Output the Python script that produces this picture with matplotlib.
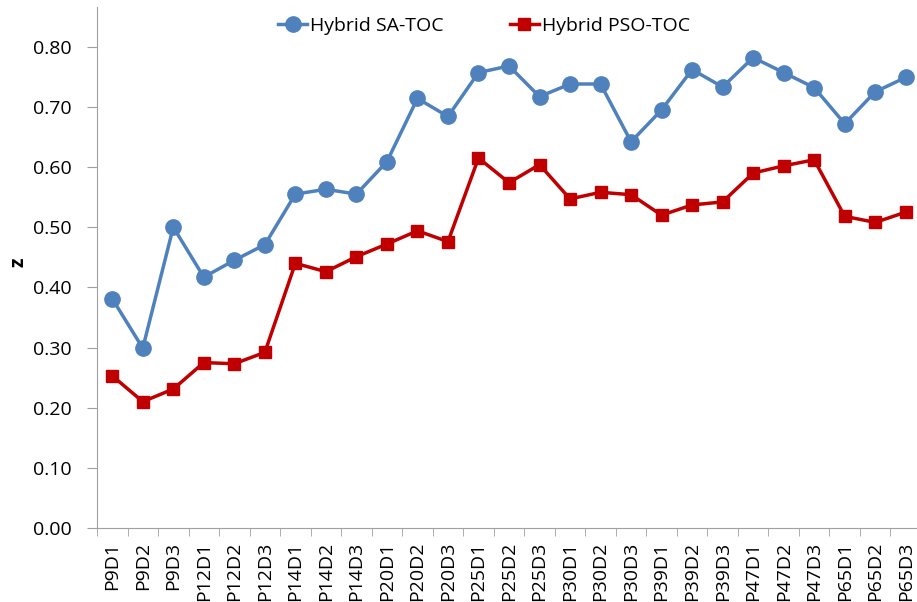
import matplotlib
matplotlib.use("Agg")
import matplotlib.pyplot as plt
import numpy as np

plt.rcParams['font.family'] = ['Open Sans', 'DejaVu Sans']

# categories and series
categories = ["P9D1", "P9D2", "P9D3", "P12D1", "P12D2", "P12D3",
              "P14D1", "P14D2", "P14D3", "P20D1", "P20D2", "P20D3",
              "P25D1", "P25D2", "P25D3", "P30D1", "P30D2", "P30D3",
              "P39D1", "P39D2", "P39D3", "P47D1", "P47D2", "P47D3",
              "P65D1", "P65D2", "P65D3"]
sa_toc = [0.381, 0.299, 0.500, 0.417, 0.445, 0.471,
          0.555, 0.563, 0.555, 0.609, 0.714, 0.684,
          0.757, 0.768, 0.717, 0.738, 0.738, 0.642,
          0.695, 0.762, 0.733, 0.782, 0.757, 0.732,
          0.672, 0.725, 0.749]
pso_toc = [0.253, 0.210, 0.231, 0.275, 0.273, 0.292,
           0.440, 0.426, 0.451, 0.472, 0.494, 0.476,
           0.615, 0.574, 0.604, 0.547, 0.558, 0.554,
           0.520, 0.537, 0.542, 0.590, 0.602, 0.612,
           0.518, 0.508, 0.525]
y_ticks = [0.0, 0.1, 0.2, 0.3, 0.4, 0.5, 0.6, 0.7, 0.8]

fig = plt.figure(figsize=(9.17, 6.02), dpi=100)
ax = fig.add_axes([97 / 917, 1 - 528 / 602, 824 / 917, 521 / 602])

x = np.arange(len(categories))
ax.plot(x, sa_toc, color="#4F81BD", lw=2.5, marker="o", ms=11,
        label="Hybrid SA-TOC")
ax.plot(x, pso_toc, color="#C00000", lw=2.5, marker="s", ms=9,
        label="Hybrid PSO-TOC")

ax.set_xlim(-0.5, len(categories) - 0.5)
ax.set_ylim(0, 0.866)
ax.set_yticks(y_ticks)
ax.set_yticklabels(["%.2f" % v for v in y_ticks], fontsize=14)
ax.set_xticks(x)
ax.set_xticklabels(categories, rotation=90, fontsize=14)
ax.set_xticks(np.arange(len(categories) + 1) - 0.5, minor=True)
ax.tick_params(axis="x", which="major", length=0, pad=10)
ax.tick_params(axis="x", which="minor", length=6, color="#A0A0A0")
ax.tick_params(axis="y", length=7, color="#A0A0A0", pad=11)

for s in ["top", "right"]:
    ax.spines[s].set_visible(False)
ax.spines["left"].set_color("#A0A0A0")
ax.spines["bottom"].set_color("#A0A0A0")

fig.text(18 / 917, 1 - 262 / 602, "z", rotation=90, fontsize=14,
         fontweight="bold", ha="center", va="center")

ax.legend(loc="center", bbox_to_anchor=(484 / 917, 1 - 26 / 602),
          bbox_transform=fig.transFigure, ncol=2, frameon=False,
          fontsize=14, handlelength=1.5, columnspacing=3.4,
          handletextpad=0.15)

fig.savefig("out.png", dpi=100)
